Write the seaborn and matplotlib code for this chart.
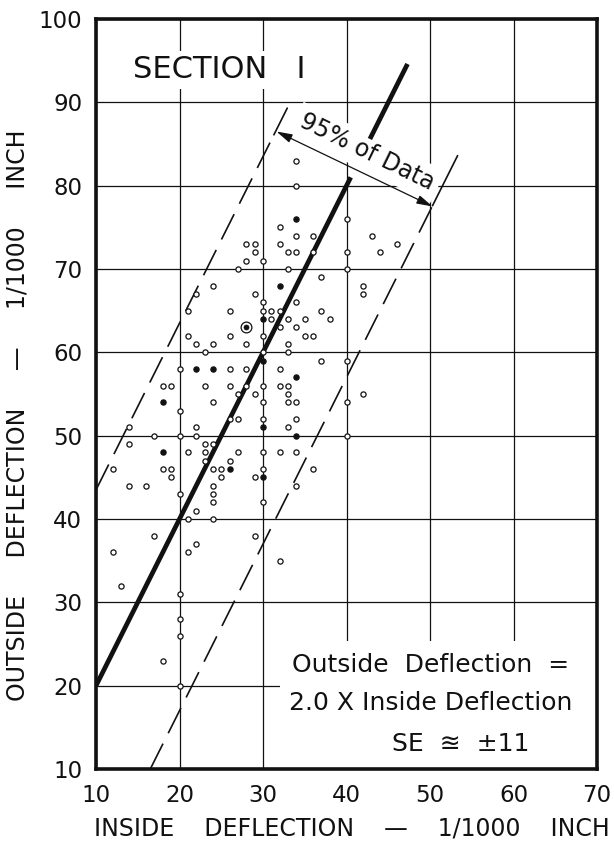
import matplotlib
matplotlib.use("Agg")
import matplotlib.pyplot as plt
import pandas as pd
import seaborn as sns

# ---------------- data (inside deflection, outside deflection; 1/1000 inch) ----------------
open_inside = [34, 34, 32, 40, 34, 36, 43, 28, 29, 32, 46, 29, 33, 34, 36, 40, 44, 28, 30, 27,
               33, 40, 37, 24, 42, 22, 29, 42, 30, 34, 21, 26, 30, 31, 32, 37, 31, 33, 35, 38,
               32, 34, 21, 26, 30, 35, 36, 22, 24, 28, 33, 23, 30, 33, 37, 40, 20, 26, 28, 32,
               18, 19, 23, 26, 28, 30, 32, 33, 27, 29, 33, 42, 24, 30, 33, 34, 40, 20, 26, 27,
               30, 34, 14, 22, 33, 17, 20, 22, 40, 14, 23, 24, 21, 23, 27, 30, 32, 34, 23, 26,
               12, 18, 19, 24, 25, 30, 36, 19, 25, 29, 14, 16, 24, 34, 20, 24, 24, 30, 22, 21,
               24, 17, 29, 22, 12, 21, 32, 13, 20, 20, 20, 18, 20]
open_outside = [83, 80, 75, 76, 74, 74, 74, 73, 73, 73, 73, 72, 72, 72, 72, 72, 72, 71, 71, 70,
                70, 70, 69, 68, 68, 67, 67, 67, 66, 66, 65, 65, 65, 65, 65, 65, 64, 64, 64, 64,
                63, 63, 62, 62, 62, 62, 62, 61, 61, 61, 61, 60, 60, 60, 59, 59, 58, 58, 58, 58,
                56, 56, 56, 56, 56, 56, 56, 56, 55, 55, 55, 55, 54, 54, 54, 54, 54, 53, 52, 52,
                52, 52, 51, 51, 51, 50, 50, 50, 50, 49, 49, 49, 48, 48, 48, 48, 48, 48, 47, 47,
                46, 46, 46, 46, 46, 46, 46, 45, 45, 45, 44, 44, 44, 44, 43, 43, 42, 42, 41, 40,
                40, 38, 38, 37, 36, 36, 35, 32, 31, 28, 26, 23, 20]
solid_inside = [34, 32, 30, 30, 22, 24, 34, 18, 30, 34, 18, 26, 30]
solid_outside = [76, 68, 64, 59, 58, 58, 57, 54, 51, 50, 48, 46, 45]
ringed_inside = [28]
ringed_outside = [63]

# fitted relation and 95 % band
fit_slope = 2.0
band_offsets = [23.5, -23.0]           # upper, lower
fit_spans = [(10.0, 40.5), (42.8, 47.3)]
band_spans = [(10.0, 31.0), (16.5, 50.2)]
bracket_spans = [(31.3, 32.9), (50.3, 53.3)]

x_ticks = [10, 20, 30, 40, 50, 60, 70]
y_ticks = [10, 20, 30, 40, 50, 60, 70, 80, 90, 100]

open_df = pd.DataFrame({"inside": open_inside, "outside": open_outside})
solid_df = pd.DataFrame({"inside": solid_inside, "outside": solid_outside})
ring_df = pd.DataFrame({"inside": ringed_inside, "outside": ringed_outside})

# ---------------- style ----------------
sns.set_theme(style="white")
plt.rcParams["font.family"] = ["DejaVu Sans"]
INK = "#111111"

fig = plt.figure(figsize=(6.14, 8.43), dpi=100)
ax = fig.add_axes([0.1564, 0.0878, 0.816, 0.8897])
ax.set_xlim(10, 70)
ax.set_ylim(10, 100)
ax.set_xticks(x_ticks)
ax.set_yticks(y_ticks)
ax.tick_params(length=0, labelsize=16.5, colors=INK)
ax.tick_params(axis="x", pad=11)
ax.tick_params(axis="y", pad=10)
ax.grid(True, color=INK, linewidth=0.9, zorder=0)
ax.set_axisbelow(True)
for s in ax.spines.values():
    s.set_color(INK)
    s.set_linewidth(2.6)

# blank panel behind the equation text
ax.add_patch(plt.Rectangle((32, 10), 38, 15.3, facecolor="white", edgecolor="none", zorder=1))

# fitted line
for x0, x1 in fit_spans:
    ax.plot([x0, x1], [fit_slope * x0, fit_slope * x1], color=INK, lw=3.4,
            solid_capstyle="butt", zorder=4)
# 95% band
for off, (x0, x1) in zip(band_offsets, band_spans):
    ax.plot([x0, x1], [fit_slope * x0 + off, fit_slope * x1 + off], color=INK, lw=1.2,
            linestyle=(0, (17, 7)), zorder=4)
for off, (x0, x1) in zip(band_offsets, bracket_spans):
    ax.plot([x0, x1], [fit_slope * x0 + off, fit_slope * x1 + off], color=INK, lw=1.2, zorder=6)

# points
sns.scatterplot(data=open_df, x="inside", y="outside", ax=ax, marker="o", s=14,
                facecolor="white", edgecolor=INK, linewidth=0.9, zorder=5, legend=False)
sns.scatterplot(data=solid_df, x="inside", y="outside", ax=ax, marker="o", s=14,
                color=INK, edgecolor=INK, linewidth=0.9, zorder=5, legend=False)
sns.scatterplot(data=ring_df, x="inside", y="outside", ax=ax, marker="o", s=60,
                facecolor="white", edgecolor=INK, linewidth=0.9, zorder=5, legend=False)
sns.scatterplot(data=ring_df, x="inside", y="outside", ax=ax, marker="o", s=13,
                color=INK, edgecolor=INK, linewidth=0.5, zorder=6, legend=False)
ax.set_xlabel("")
ax.set_ylabel("")

# annotations
ax.text(14.4, 93.9, "SECTION   I", fontsize=22, ha="left", va="center", color=INK, zorder=3,
        bbox=dict(facecolor="white", edgecolor="none", pad=3))
ax.text(42.45, 84.0, "95% of Data", fontsize=17, rotation=-26, rotation_mode="anchor",
        ha="center", va="center", color=INK, zorder=3,
        bbox=dict(facecolor="white", edgecolor="none", pad=4))
ax.annotate("", xy=(50.3, 77.5), xytext=(31.6, 86.5),
            arrowprops=dict(arrowstyle="<|-|>,head_length=0.8,head_width=0.22",
                            color=INK, lw=0.9, shrinkA=0, shrinkB=0), zorder=7)
ax.text(50.1, 22.5, "Outside  Deflection  =", fontsize=18, ha="center", va="center", color=INK, zorder=3)
ax.text(50.1, 17.9, "2.0 X Inside Deflection", fontsize=18, ha="center", va="center", color=INK, zorder=3)
ax.text(53.7, 13.0, "SE  \u224A  \u00B111", fontsize=18, ha="center", va="center", color=INK, zorder=3)

# axis titles
fig.text(352 / 614, 1 - 828 / 843, "INSIDE    DEFLECTION    \u2014    1/1000    INCH",
         fontsize=17, ha="center", va="center", color=INK)
fig.text(18 / 614, 1 - 415 / 843, "OUTSIDE     DEFLECTION     \u2014     1/1000     INCH",
         fontsize=17, ha="center", va="center", rotation=90, color=INK)

fig.savefig("out.png", dpi=100, facecolor="white")
